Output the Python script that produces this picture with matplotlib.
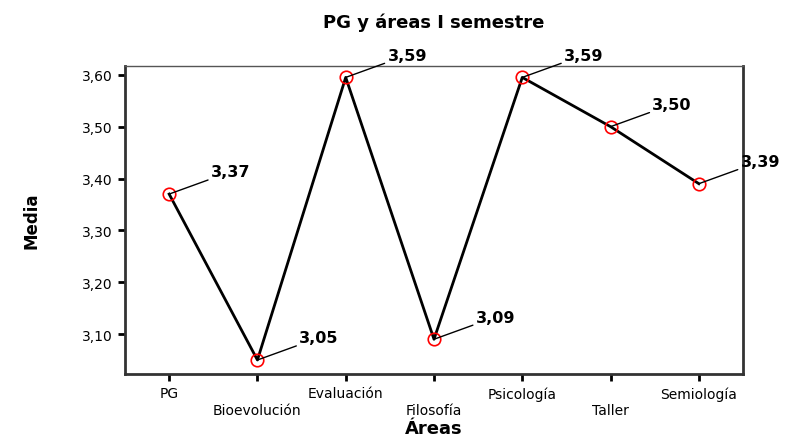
import matplotlib
matplotlib.use('Agg')
import matplotlib.pyplot as plt
from matplotlib.ticker import FuncFormatter

# data
areas = ['PG', 'Bioevolución', 'Evaluación', 'Filosofía', 'Psicología', 'Taller', 'Semiología']
medias = [3.37, 3.05, 3.595, 3.09, 3.595, 3.50, 3.39]
etiquetas = ['3,37', '3,05', '3,59', '3,09', '3,59', '3,50', '3,39']

plt.rcParams['font.family'] = 'DejaVu Sans'

fig = plt.figure(figsize=(8, 4.39), dpi=100)
ax = fig.add_axes([0.15625, 0.1458, 0.7725, 0.7016])

x = list(range(len(areas)))
ax.plot(x, medias, color='black', linewidth=2, zorder=2)
ax.plot(x, medias, linestyle='none', marker='o', markersize=9,
        markerfacecolor='none', markeredgecolor='red', markeredgewidth=1.2, zorder=3)

# value labels with leader lines
for xi, yi, lab in zip(x, medias, etiquetas):
    ax.annotate(lab, xy=(xi, yi), xytext=(30, 16), textcoords='offset points',
                fontsize=11.5, fontweight='bold', va='center', ha='left',
                arrowprops=dict(arrowstyle='-', color='black', lw=1, shrinkA=0, shrinkB=0),
                annotation_clip=False)

ax.set_xlim(-0.5, 6.5)
ax.set_ylim(3.023, 3.617)
ax.set_yticks([3.10, 3.20, 3.30, 3.40, 3.50, 3.60])
ax.yaxis.set_major_formatter(FuncFormatter(lambda v, p: f'{v:.2f}'.replace('.', ',')))

ax.set_xticks(x)
ax.set_xticklabels([a if i % 2 == 0 else '\n' + a for i, a in enumerate(areas)])

ax.tick_params(axis='both', direction='out', length=5, width=2, labelsize=10, pad=4)

for s in ['left', 'bottom', 'right']:
    ax.spines[s].set_linewidth(2)
    ax.spines[s].set_color('#333333')
ax.spines['top'].set_linewidth(1)
ax.spines['top'].set_color('#555555')

ax.set_title('PG y áreas I semestre', fontsize=13, fontweight='bold', pad=28)
ax.set_ylabel('Media', fontsize=12, fontweight='bold', labelpad=30)
ax.set_xlabel('Áreas', fontsize=13, fontweight='bold', labelpad=2)

plt.savefig('out.png', dpi=100)
